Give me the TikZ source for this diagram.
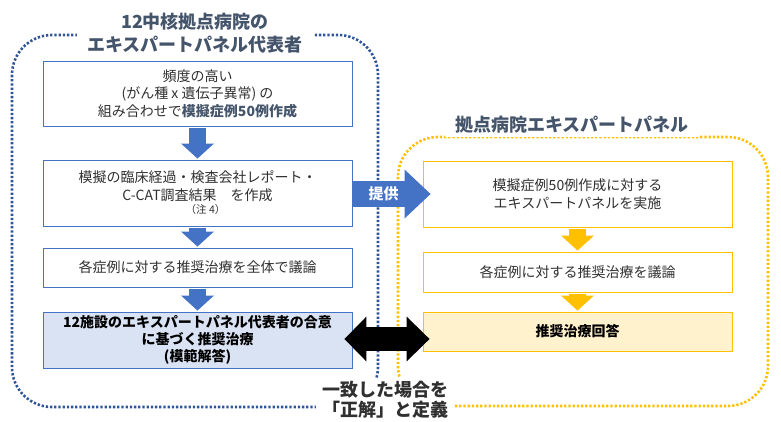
\documentclass[tikz,border=0pt]{standalone}
\usepackage{fontspec}
\setmainfont{Noto Sans CJK JP}
\usetikzlibrary{arrows.meta}
\definecolor{pblue}{HTML}{4472C4}
\definecolor{pnavy}{HTML}{2F5597}
\definecolor{porange}{HTML}{FFC000}
\definecolor{plightblue}{HTML}{DAE3F3}
\definecolor{plightorange}{HTML}{FFF2CC}
\definecolor{ptitle}{HTML}{44546A}
\definecolor{ptext}{HTML}{303030}

\begin{document}
\begin{tikzpicture}[x=1pt, y=-1pt,
  box/.style={draw=pblue, line width=0.9pt, minimum width=309pt, align=center,
    inner sep=0pt, text=ptext, font=\fontsize{14}{17.5}\selectfont},
  rbox/.style={box, draw=porange},
  frame/.style={line width=2.6pt, dash pattern=on 2.3pt off 1.9pt, rounded corners=40pt},
  title/.style={fill=white, text=ptitle, align=center, inner xsep=10pt,
    font=\bfseries\fontsize{18}{23}\selectfont},
  downarr/.style={line width=17pt, -{Triangle[width=33pt,length=15pt,line width=0pt]},
    shorten <=2pt, shorten >=1pt},
  bigarr/.style={line width=25pt, pblue, -{Triangle[width=49pt,length=26pt,line width=0pt]}},
  dblarr/.style={line width=24pt, black,
    {Triangle[width=45pt,length=22pt,line width=0pt]}-{Triangle[width=45pt,length=23pt,line width=0pt]}}]
\useasboundingbox (0,0) rectangle (781,422);

% dotted frames
\draw[frame, pnavy] (12,35) rectangle (378,407);
\draw[frame, porange] (398,137) rectangle (768,406);
\node[title] (ltitle) at (195,33.5) {12中核拠点病院の\\エキスパートパネル代表者};
\node[title] (rtitle) at (572,125) {拠点病院エキスパートパネル};

% left column
\node[box, minimum height=65pt] (b1) at (197.5,93.5)
  {頻度の高い\\(がん種 x 遺伝子異常) の\\組み合わせで{\bfseries\color{ptitle}模擬症例50例作成}};
\node[box, minimum height=66pt] (b2) at (197.5,193)
  {模擬の臨床経過・検査会社レポート・\\C-CAT調査結果　を作成\\[-4pt]
   \hspace*{16pt}{\fontsize{10.5}{11}\selectfont （注 4）}};
\node[box, minimum height=39pt] (b3) at (197.5,267.5) {各症例に対する推奨治療を全体で議論};
\node[box, minimum height=56pt, fill=plightblue, text=black, font=\bfseries\fontsize{14}{17}\selectfont] (b4) at (197.5,340)
  {12施設のエキスパートパネル代表者の合意\\に基づく推奨治療\\(模範解答)};

% right column
\node[rbox, minimum height=66pt] (r1) at (577.5,194)
  {模擬症例50例作成に対する\\エキスパートパネルを実施};
\node[rbox, minimum height=40pt] (r2) at (577.5,272) {各症例に対する推奨治療を議論};
\node[rbox, minimum height=39pt, fill=plightorange, text=black, font=\bfseries\fontsize{14}{17}\selectfont] (r3) at (577.5,331.5) {推奨治療回答};

% flow arrows
\draw[downarr, pblue] (b1) -- (b2);
\draw[downarr, pblue] (b2) -- (b3);
\draw[downarr, pblue] (b3) -- (b4);
\draw[downarr, porange] (r1) -- (r2);
\draw[downarr, porange] (r2) -- (r3);

\draw[bigarr] ([yshift=-1pt]b2.east) -- ([xshift=8pt,yshift=-1pt]b2.east -| r1.west)
  node[pos=0.4, text=white, font=\bfseries\fontsize{15}{15}\selectfont] {提供};
\draw[dblarr] ([xshift=-8pt,yshift=1pt]b4.east) -- ([xshift=7pt,yshift=1pt]b4.east -| r3.west);

\node[fill=white, text=ptext, align=center, inner xsep=6pt, inner ysep=3pt,
  font=\bfseries\fontsize{18}{20}\selectfont] (match) at (385,400)
  {一致した場合を\\「正解」と定義};
\end{tikzpicture}
\end{document}
